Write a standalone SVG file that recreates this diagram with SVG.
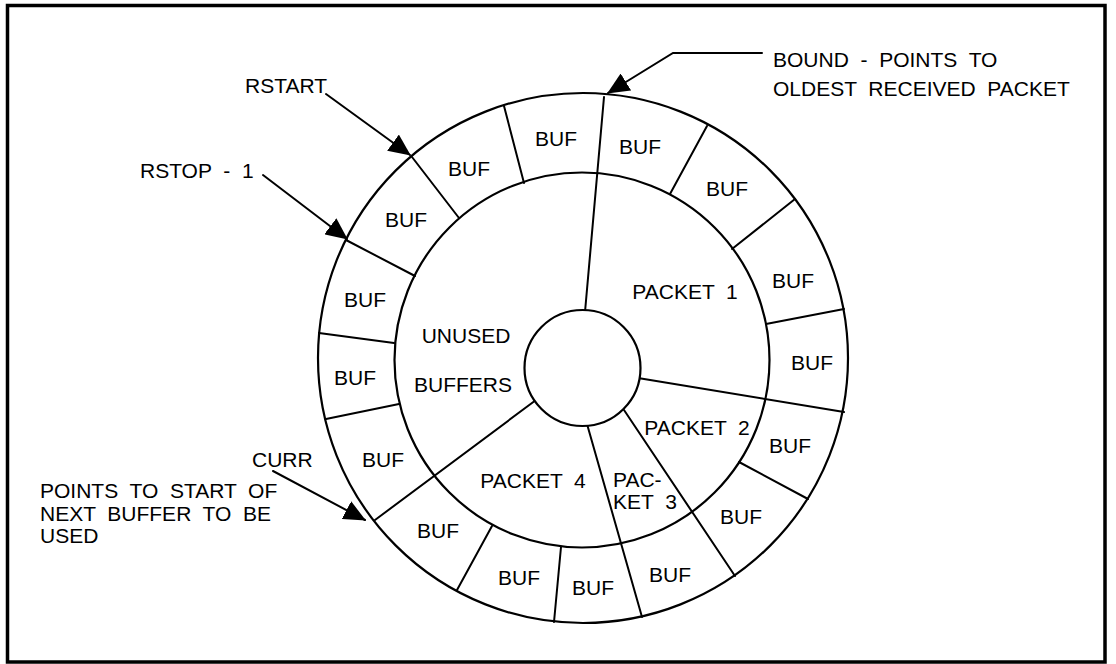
<svg xmlns="http://www.w3.org/2000/svg" width="1116" height="664" viewBox="0 0 1116 664">
<defs>
<style>
.ln{stroke:#000;stroke-width:2;fill:none;stroke-linecap:round}
.c{stroke:#000;stroke-width:2.2;fill:none}
.t{font-family:"Liberation Sans",Arial,Helvetica,sans-serif;font-size:21px;fill:#000;white-space:pre}
.m{text-anchor:middle}
</style>
<marker id="ah" viewBox="0 0 22 20" refX="21" refY="10" markerWidth="22" markerHeight="20" markerUnits="userSpaceOnUse" orient="auto">
<path d="M0,0 L22,10 L0,20 z" fill="#000"/>
</marker>
</defs>
<rect x="0" y="0" width="1116" height="664" fill="#fff"/>
<rect id="frame" x="7.5" y="5.5" width="1097.5" height="656.5" fill="none" stroke="#000" stroke-width="3.5"/>

<g id="ring">
<circle class="c" cx="583" cy="358" r="265"/>
<circle class="c" cx="582" cy="360" r="187.5"/>
</g>

<g id="dividers">
<line class="ln" x1="504" y1="106" x2="524" y2="183"/>
<line class="ln" x1="412" y1="157" x2="459" y2="218"/>
<line class="ln" x1="346" y1="240" x2="415" y2="276"/>
<line class="ln" x1="319" y1="333" x2="394" y2="343"/>
<line class="ln" x1="326" y1="419" x2="399" y2="404"/>
<line class="ln" x1="457" y1="590" x2="492" y2="526"/>
<line class="ln" x1="554" y1="622" x2="561" y2="547"/>
<line class="ln" x1="808" y1="499" x2="739" y2="462"/>
<line class="ln" x1="844" y1="309" x2="766" y2="324"/>
<line class="ln" x1="795" y1="199" x2="732" y2="249"/>
<line class="ln" x1="707" y1="126" x2="670" y2="194"/>
<line class="ln" x1="604" y1="97" x2="585" y2="312"/>
<line class="ln" x1="375" y1="520" x2="536" y2="400"/>
<line class="ln" x1="642" y1="617" x2="587" y2="424"/>
<line class="ln" x1="735" y1="576" x2="624" y2="410"/>
<line class="ln" x1="844" y1="412" x2="638" y2="378"/>
</g>

<g id="hub">
<circle cx="582.5" cy="368" r="58" fill="#fff" stroke="#000" stroke-width="2.2"/>
</g>

<g id="buffers">
<text class="t m" x="556" y="146">BUF</text>
<text class="t m" x="640" y="154">BUF</text>
<text class="t m" x="469" y="176">BUF</text>
<text class="t m" x="406" y="227">BUF</text>
<text class="t m" x="365" y="307">BUF</text>
<text class="t m" x="355" y="385">BUF</text>
<text class="t m" x="383" y="467">BUF</text>
<text class="t m" x="438" y="538">BUF</text>
<text class="t m" x="519" y="585">BUF</text>
<text class="t m" x="593" y="595">BUF</text>
<text class="t m" x="670" y="582">BUF</text>
<text class="t m" x="741" y="524">BUF</text>
<text class="t m" x="790" y="453">BUF</text>
<text class="t m" x="812" y="370">BUF</text>
<text class="t m" x="793" y="288">BUF</text>
<text class="t m" x="727" y="196">BUF</text>
</g>

<g id="unused">
<text class="t m" x="466" y="343">UNUSED</text>
<text class="t m" x="463" y="392">BUFFERS</text>
</g>
<g id="packet1"><text class="t m" x="685" y="299">PACKET  1</text></g>
<g id="packet2"><text class="t m" x="697" y="435">PACKET  2</text></g>
<g id="packet3">
<text class="t" x="613" y="487">PAC-</text>
<text class="t" x="613" y="509">KET  3</text>
</g>
<g id="packet4"><text class="t m" x="533" y="488">PACKET  4</text></g>

<g id="annotations">
<text class="t" x="773" y="67">BOUND  -  POINTS  TO</text>
<text class="t" x="773" y="96">OLDEST  RECEIVED  PACKET</text>
<text class="t" x="245" y="93">RSTART</text>
<text class="t" x="140" y="178">RSTOP  -  1</text>
<text class="t" x="252" y="467">CURR</text>
<text class="t" x="40" y="498">POINTS  TO  START  OF</text>
<text class="t" x="40" y="521">NEXT  BUFFER  TO  BE</text>
<text class="t" x="40" y="543">USED</text>
</g>

<g id="connectors">
<polyline class="ln" points="762,53 673,53 608,93" marker-end="url(#ah)"/>
<line class="ln" x1="326" y1="94" x2="410" y2="155" marker-end="url(#ah)"/>
<line class="ln" x1="263" y1="175" x2="347" y2="239" marker-end="url(#ah)"/>
<line class="ln" x1="273" y1="471" x2="365" y2="520" marker-end="url(#ah)"/>
</g>
</svg>
